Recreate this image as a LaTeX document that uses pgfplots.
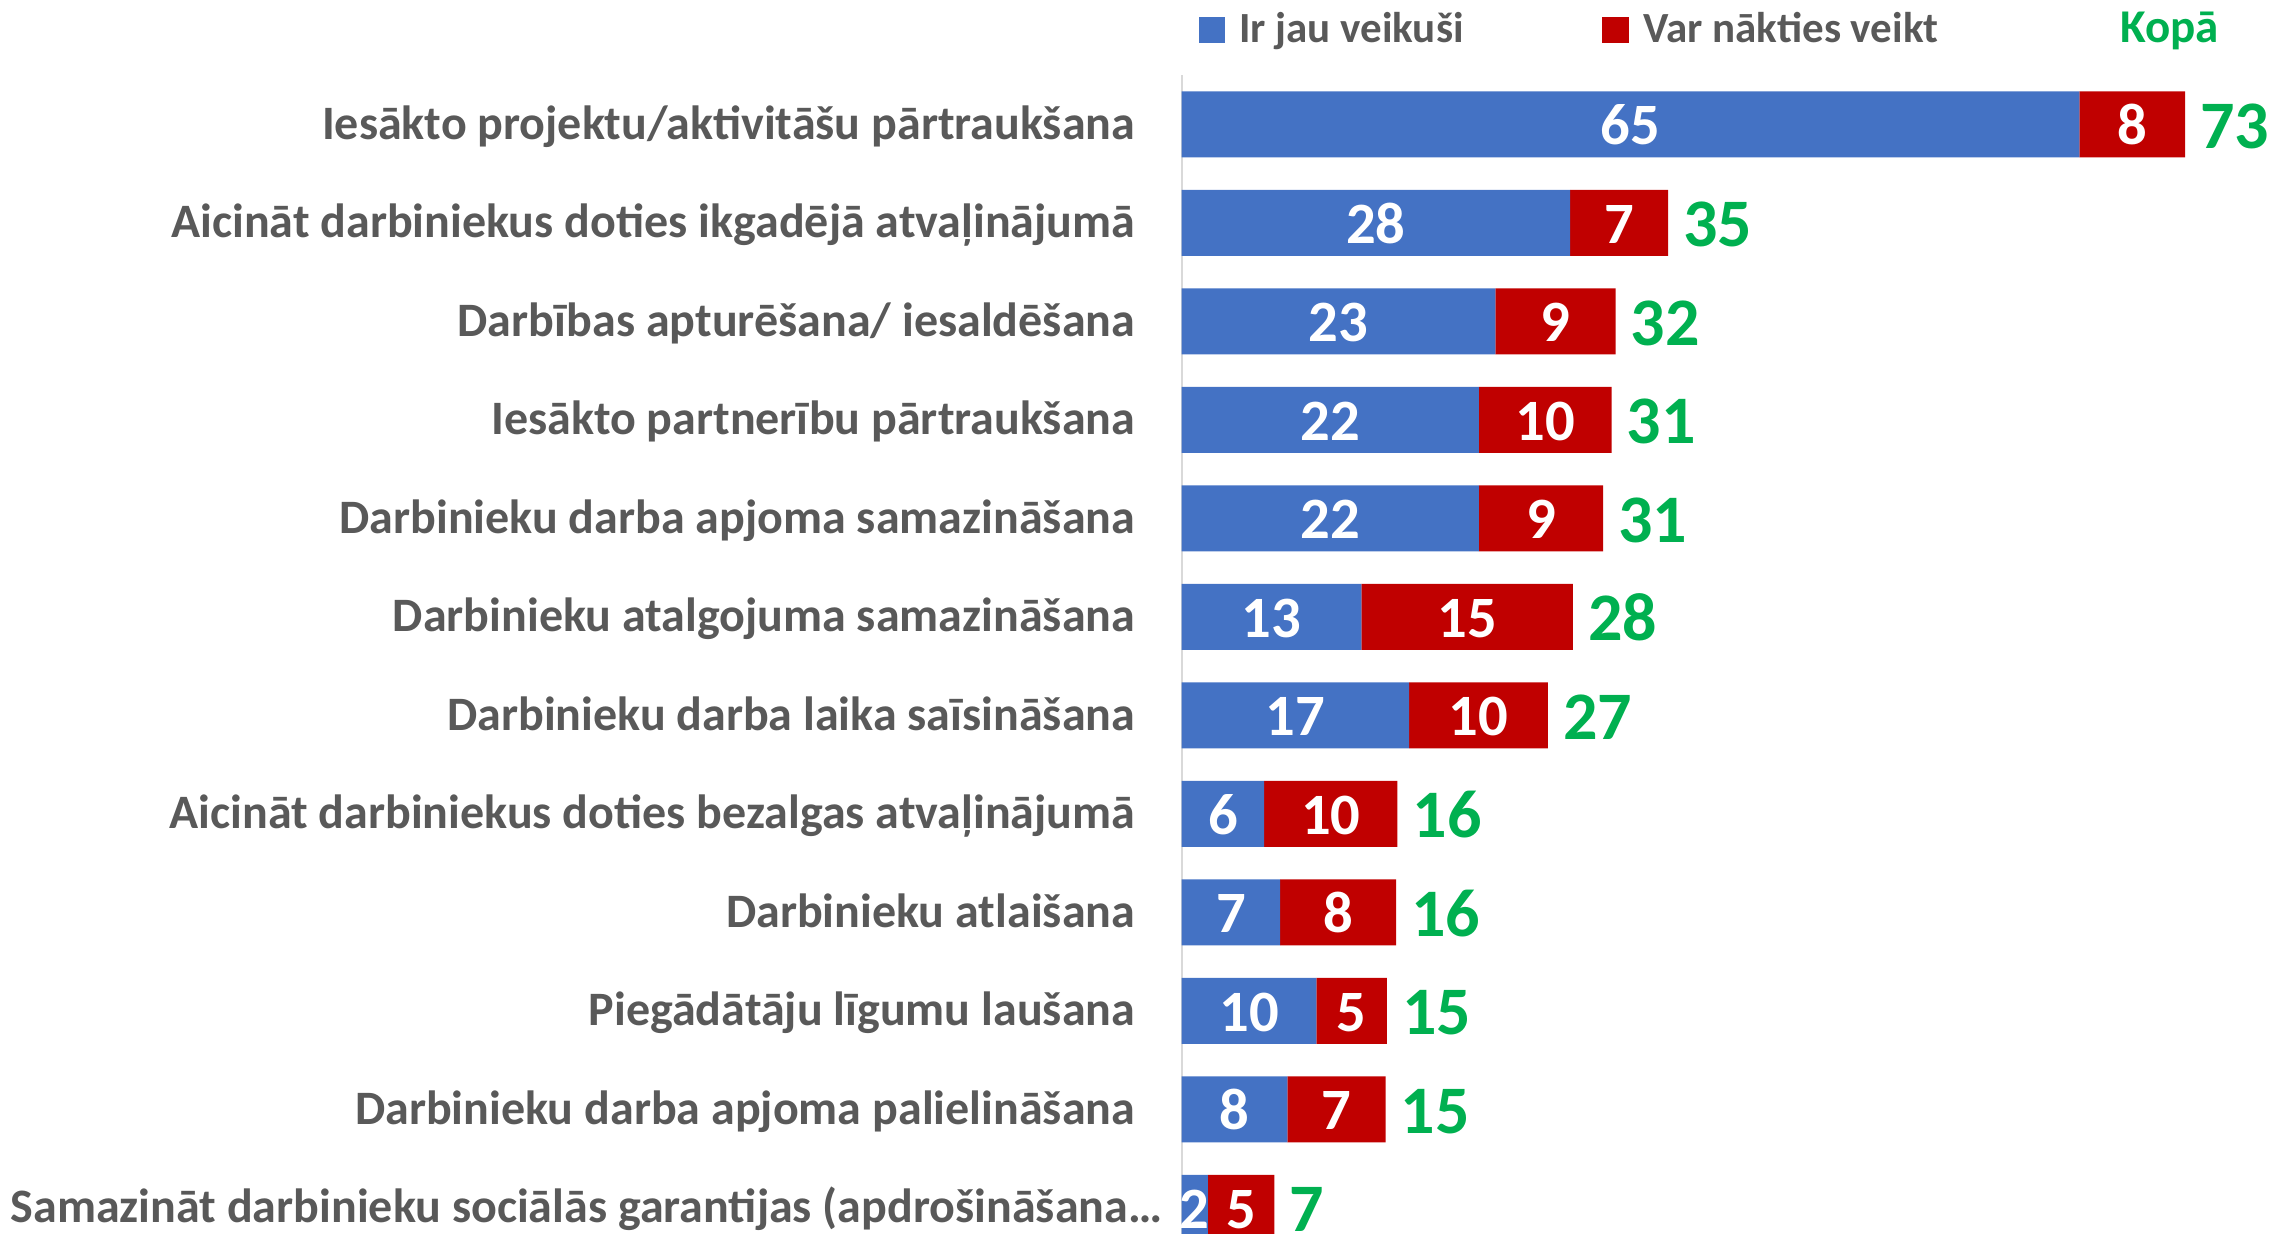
\documentclass[border=0pt]{standalone}
\usepackage{fontspec}
\setmainfont{Carlito}
\usepackage{pgfplots}
\usepackage{pgfplotstable}
\pgfplotsset{compat=1.18}
\definecolor{cblue}{HTML}{4472C4}
\definecolor{cred}{HTML}{C00000}
\definecolor{cgreen}{HTML}{00B050}
\definecolor{lgray}{HTML}{595959}
\definecolor{axgray}{HTML}{D9D9D9}
\pgfplotstableread{
idx b r bl rl tl
0 64.95 7.65 65 8 73
1 28.1 7.1 28 7 35
2 22.7 8.7 23 9 32
3 21.5 9.6 22 10 31
4 21.5 9.0 22 9 31
5 13.0 15.3 13 15 28
6 16.45 10.05 17 10 27
7 5.97 9.64 6 10 16
8 7.12 8.4 7 8 16
9 9.74 5.1 10 5 15
10 7.65 7.1 8 7 15
11 1.9 4.8 2 5 7
}\data
\pgfplotsset{
  common/.style={
    at={(1181.7pt,1159pt)}, anchor=north west,
    scale only axis, width=1036.5pt, height=1182pt,
    xmin=0, xmax=75, ymin=-0.5, ymax=11.5, y dir=reverse,
    enlargelimits=false, clip=false,
    /pgf/number format/assume math mode=true,
  }
}
\begin{document}
\begin{tikzpicture}
\useasboundingbox (0,0) rectangle (2270pt,1234pt);
\begin{axis}[
  common,
  xbar stacked, bar width=66pt,
  hide x axis, axis y line*=left,
  y axis line style={draw=axgray, line width=2pt},
  major tick length=0pt, ytick style={draw=none},
  ytick={0,...,11},
  yticklabels={
    {Iesākto projektu/aktivitāšu pārtraukšana},
    {Aicināt darbiniekus doties ikgadējā atvaļinājumā},
    {Darbības apturēšana/ iesaldēšana},
    {Iesākto partnerību pārtraukšana},
    {Darbinieku darba apjoma samazināšana},
    {Darbinieku atalgojuma samazināšana},
    {Darbinieku darba laika saīsināšana},
    {Aicināt darbiniekus doties bezalgas atvaļinājumā},
    {Darbinieku atlaišana},
    {Piegādātāju līgumu laušana},
    {Darbinieku darba apjoma palielināšana},
    {Samazināt darbinieku sociālās garantijas (apdrošināšana…\hspace*{-27pt}}},
  yticklabel style={font=\fontsize{48}{58}\selectfont\bfseries, text=lgray, anchor=base east, inner sep=0pt, xshift=-46.5pt, yshift=-15.1pt},
  nodes near coords, point meta=explicit,
  every node near coord/.append style={anchor=base, inner sep=0pt, text=white, font=\fontsize{58.6}{70}\selectfont\bfseries, yshift=-20.5pt},
]
\addplot[fill=cblue, draw=none] table[x=b, y=idx, meta=bl] {\data};
\addplot[fill=cred, draw=none] table[x=r, y=idx, meta=rl] {\data};
\end{axis}
\begin{axis}[common, hide axis]
\addplot[only marks, mark=none, nodes near coords, point meta=explicit,
  every node near coord/.append style={anchor=base west, inner sep=0pt, text=cgreen, font=\fontsize{68}{80}\selectfont\bfseries, xshift=15pt, yshift=-24.2pt}]
  table[x expr=\thisrow{b}+\thisrow{r}, y=idx, meta=tl] {\data};
\end{axis}
\fill[cblue] (1199pt,1191pt) rectangle (1225pt,1217pt);
\node[anchor=base west, inner sep=0pt, text=lgray, font=\fontsize{43}{52}\selectfont\bfseries] at (1239pt,1191pt) {Ir jau veikuši};
\fill[cred] (1602pt,1191pt) rectangle (1629pt,1217pt);
\node[anchor=base west, inner sep=0pt, text=lgray, font=\fontsize{43}{52}\selectfont\bfseries] at (1643pt,1191pt) {Var nākties veikt};
\node[anchor=base west, inner sep=0pt, text=cgreen, font=\fontsize{47}{56}\selectfont\bfseries] at (2120pt,1191pt) {Kopā};
\end{tikzpicture}
\end{document}
